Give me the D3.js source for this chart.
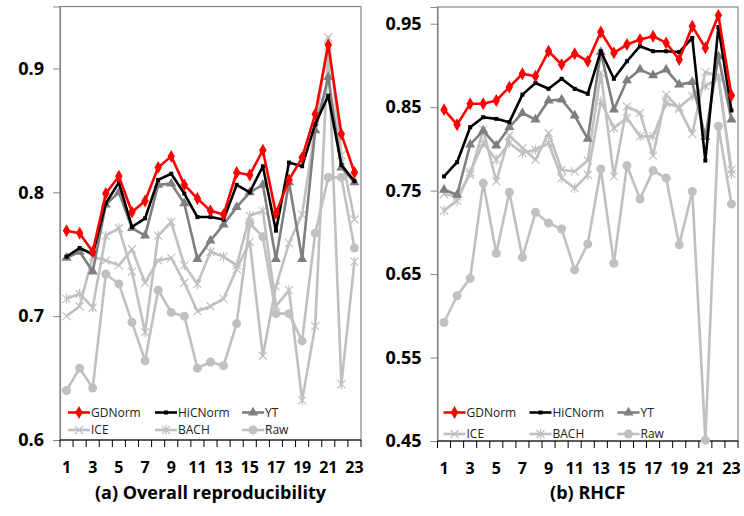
<!DOCTYPE html>
<meta charset="utf-8">
<script src="https://cdn.jsdelivr.net/npm/d3@7"></script>
<style>
  body { margin: 0; background: #fff; }
  svg { display: block; }
</style>
<div id="chart"></div>
<script>

var cats = [1,2,3,4,5,6,7,8,9,10,11,12,13,14,15,16,17,18,19,20,21,22,23];
var xTickLabels = [1,3,5,7,9,11,13,15,17,19,21,23];
var legendOrder = ["GDNorm","HiCNorm","YT","ICE","BACH","Raw"];
var drawOrder = ["Raw","BACH","ICE","YT","HiCNorm","GDNorm"];

// (a) Overall reproducibility
var aTicks = [0.6, 0.7, 0.8, 0.9];
var aGDNorm  = [0.769,0.767,0.752,0.799,0.813,0.784,0.793,0.820,0.829,0.806,0.795,0.785,0.782,0.816,0.814,0.834,0.783,0.810,0.828,0.863,0.919,0.847,0.816];
var aHiCNorm = [0.748,0.755,0.750,0.791,0.808,0.772,0.779,0.810,0.815,0.799,0.780,0.780,0.778,0.806,0.800,0.821,0.769,0.824,0.821,0.855,0.878,0.822,0.809];
var aYT      = [0.747,0.752,0.736,0.790,0.800,0.771,0.765,0.806,0.807,0.791,0.746,0.761,0.774,0.788,0.800,0.806,0.746,0.808,0.746,0.850,0.893,0.820,0.808];
var aICE     = [0.700,0.708,0.748,0.745,0.741,0.754,0.727,0.745,0.747,0.727,0.704,0.708,0.714,0.738,0.760,0.668,0.724,0.759,0.782,0.852,0.925,0.830,0.778];
var aBACH    = [0.714,0.718,0.707,0.765,0.771,0.736,0.687,0.765,0.776,0.741,0.726,0.752,0.748,0.741,0.781,0.785,0.708,0.721,0.632,0.692,0.918,0.645,0.744];
var aRaw     = [0.640,0.658,0.642,0.734,0.726,0.695,0.664,0.721,0.703,0.700,0.658,0.663,0.660,0.694,0.775,0.764,0.702,0.702,0.680,0.767,0.812,0.812,0.755];

// (b) RHCF
var bTicks = [0.45, 0.55, 0.65, 0.75, 0.85, 0.95];
var bGDNorm  = [0.847,0.829,0.854,0.854,0.858,0.874,0.890,0.887,0.917,0.901,0.914,0.905,0.940,0.915,0.925,0.931,0.935,0.927,0.907,0.947,0.921,0.960,0.864];
var bHiCNorm = [0.767,0.784,0.826,0.838,0.836,0.832,0.865,0.879,0.872,0.884,0.872,0.866,0.917,0.884,0.905,0.923,0.917,0.917,0.916,0.933,0.786,0.946,0.846];
var bYT      = [0.751,0.745,0.805,0.822,0.804,0.826,0.843,0.835,0.858,0.859,0.840,0.812,0.916,0.847,0.882,0.895,0.888,0.895,0.877,0.880,0.814,0.911,0.835];
var bICE     = [0.746,0.743,0.769,0.823,0.761,0.816,0.801,0.787,0.819,0.775,0.773,0.786,0.891,0.767,0.851,0.843,0.792,0.865,0.848,0.818,0.892,0.887,0.775];
var bBACH    = [0.726,0.738,0.772,0.807,0.787,0.807,0.795,0.799,0.807,0.765,0.753,0.769,0.857,0.825,0.837,0.815,0.815,0.855,0.850,0.863,0.875,0.885,0.770];
var bRaw     = [0.592,0.624,0.645,0.759,0.675,0.748,0.670,0.724,0.711,0.704,0.655,0.686,0.776,0.663,0.780,0.740,0.774,0.765,0.685,0.749,0.451,0.827,0.734];

var styles = {
  GDNorm:  {color: "#ff0000", marker: "diamond"},
  HiCNorm: {color: "#000000", marker: "square"},
  YT:      {color: "#7f7f7f", marker: "triangle"},
  ICE:     {color: "#c0c0c0", marker: "x"},
  BACH:    {color: "#c0c0c0", marker: "star"},
  Raw:     {color: "#c0c0c0", marker: "circle"}
};

var width = 744, height = 516;
var svg = d3.select("#chart").append("svg")
  .attr("width", width)
  .attr("height", height);

function marker(g, type, cx, cy, color) {
  if (type == "circle") {
    g.append("circle").attr("cx", cx).attr("cy", cy).attr("r", 4.5).attr("fill", color);
  } else if (type == "x" || type == "star") {
    var s = 4;
    var p = "M" + (cx-s) + "," + (cy-s) + "L" + (cx+s) + "," + (cy+s) +
            "M" + (cx-s) + "," + (cy+s) + "L" + (cx+s) + "," + (cy-s);
    if (type == "star") p += "M" + cx + "," + (cy-s-1) + "L" + cx + "," + (cy+s+1);
    g.append("path").attr("d", p).attr("stroke", color).attr("stroke-width", 1.2).attr("fill", "none");
  } else {
    var sym = {diamond: d3.symbolDiamond, square: d3.symbolSquare, triangle: d3.symbolTriangle}[type];
    var size = {diamond: 48, square: 16, triangle: 44}[type];
    g.append("path")
      .attr("transform", "translate(" + cx + "," + cy + ")")
      .attr("d", d3.symbol().type(sym).size(size)())
      .attr("fill", color);
  }
}

function drawPanel(p) {
  var g = svg.append("g");

  var x = d3.scaleBand().domain(cats).range([p.left, p.right]).padding(0);
  var y = d3.scaleLinear().domain(p.domain).range([p.bottom, p.top]);
  var cx = function(c) { return x(c) + x.bandwidth() / 2; };

  // frame
  g.append("rect")
    .attr("x", p.left).attr("y", p.top)
    .attr("width", p.right - p.left).attr("height", p.bottom - p.top)
    .attr("fill", "none").attr("stroke", "#868686").attr("stroke-width", 1.2);

  // y axis
  var yAxis = g.append("g")
    .attr("transform", "translate(" + p.left + ",0)")
    .call(d3.axisLeft(y).tickValues(p.ticks).tickSize(7).tickPadding(9)
      .tickFormat(d3.format(p.fmt)));
  yAxis.select(".domain").attr("stroke", "#868686").attr("stroke-width", 1.2);
  yAxis.selectAll(".tick line").attr("stroke", "#868686");
  yAxis.selectAll("text")
    .attr("fill", "#000")
    .style("font-family", "'Open Sans', sans-serif")
    .style("font-weight", "bold")
    .style("font-size", "18px");

  // x axis: ticks between categories, labels on odd categories
  var xAxis = g.append("g");
  xAxis.append("line")
    .attr("x1", p.left).attr("x2", p.right)
    .attr("y1", p.bottom).attr("y2", p.bottom)
    .attr("stroke", "#000").attr("stroke-width", 1.2);
  xAxis.selectAll(".xt")
    .data(cats.concat(["end"]))
    .enter().append("line")
      .attr("x1", function(c) { return c == "end" ? p.right : x(c); })
      .attr("x2", function(c) { return c == "end" ? p.right : x(c); })
      .attr("y1", p.bottom).attr("y2", p.bottom + 7)
      .attr("stroke", "#000");
  xAxis.selectAll(".xl")
    .data(xTickLabels)
    .enter().append("text")
      .attr("x", function(c) { return cx(c); })
      .attr("y", p.bottom + 33)
      .attr("text-anchor", "middle")
      .style("font-family", "'Open Sans', sans-serif")
      .style("font-weight", "bold")
      .style("font-size", "16px")
      .text(function(c) { return c; });

  // series
  var line = d3.line()
    .x(function(d, i) { return cx(cats[i]); })
    .y(function(d) { return y(d); });

  drawOrder.forEach(function(name) {
    var st = styles[name];
    var vals = p.data[name];
    g.append("path")
      .datum(vals)
      .attr("d", line)
      .attr("fill", "none")
      .attr("stroke", st.color)
      .attr("stroke-width", 2.6)
      .attr("stroke-linejoin", "round");
    var mg = g.append("g");
    vals.forEach(function(v, i) { marker(mg, st.marker, cx(cats[i]), y(v), st.color); });
  });

  // legend
  legendOrder.forEach(function(name, i) {
    var st = styles[name];
    var lx = p.left + p.legendCols[i % 3];
    var ly = p.legendRows[Math.floor(i / 3)];
    g.append("line")
      .attr("x1", lx).attr("x2", lx + 22)
      .attr("y1", ly).attr("y2", ly)
      .attr("stroke", st.color).attr("stroke-width", 2.6);
    marker(g, st.marker, lx + 11, ly, st.color);
    g.append("text")
      .attr("x", lx + 23).attr("y", ly)
      .attr("dy", "0.35em")
      .attr("fill", "#222")
      .style("font-family", "'Open Sans', sans-serif")
      .style("font-size", "12px")
      .text(name);
  });

  // title
  g.append("text")
    .attr("x", (p.left + p.right) / 2)
    .attr("y", 499)
    .attr("text-anchor", "middle")
    .style("font-family", "'Open Sans', sans-serif")
    .style("font-weight", "bold")
    .style("font-size", "18px")
    .text(p.title);
}

drawPanel({
  left: 60, right: 361, top: 6.5, bottom: 440,
  domain: [0.6, 0.95], ticks: aTicks, fmt: ".1f",
  data: {GDNorm: aGDNorm, HiCNorm: aHiCNorm, YT: aYT, ICE: aICE, BACH: aBACH, Raw: aRaw},
  legendCols: [8, 95, 182], legendRows: [412.5, 430],
  title: "(a) Overall reproducibility"
});

drawPanel({
  left: 437.5, right: 738, top: 7, bottom: 441,
  domain: [0.45, 0.97], ticks: bTicks, fmt: ".2f",
  data: {GDNorm: bGDNorm, HiCNorm: bHiCNorm, YT: bYT, ICE: bICE, BACH: bBACH, Raw: bRaw},
  legendCols: [6, 92, 180], legendRows: [412.5, 434],
  title: "(b) RHCF"
});

</script>
